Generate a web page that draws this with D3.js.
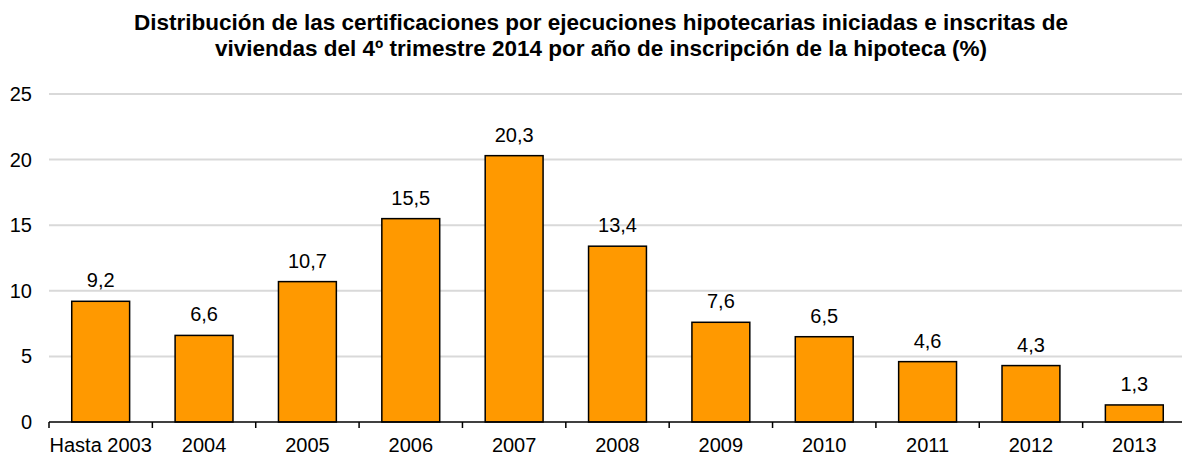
<!DOCTYPE html>
<html>
<head>
<meta charset="utf-8">
<script src="https://cdn.jsdelivr.net/npm/d3@7"></script>
<style>
  body { margin: 0; background: #fff; }
  svg { display: block; font-family: "Liberation Sans", Arial, sans-serif; }
</style>
</head>
<body>
<svg id="chart" width="1182" height="455"></svg>
<script>
// data
const categories = ["Hasta 2003", "2004", "2005", "2006", "2007", "2008", "2009", "2010", "2011", "2012", "2013"];
const values = [9.2, 6.6, 10.7, 15.5, 20.3, 13.4, 7.6, 6.5, 4.6, 4.3, 1.3];
const yTicks = [0, 5, 10, 15, 20, 25];
const titleLines = [
  "Distribución de las certificaciones por ejecuciones hipotecarias iniciadas e inscritas de",
  "viviendas del 4º trimestre 2014 por año de inscripción de la hipoteca (%)"
];

const svg = d3.select("#chart");
const plotLeft = 49, plotRight = 1186, plotTop = 94, plotBottom = 422;

const x = d3.scaleBand().domain(categories).range([plotLeft, plotRight]).paddingInner(0.44).paddingOuter(0.22);
const y = d3.scaleLinear().domain([0, 25]).range([plotBottom, plotTop]);

// title
svg.append("g").selectAll("text")
  .data(titleLines)
  .join("text")
  .attr("x", 601)
  .attr("y", (d, i) => 30 + i * 26)
  .attr("text-anchor", "middle")
  .attr("font-size", 22.5)
  .attr("font-weight", "bold")
  .text(d => d);

// gridlines
svg.append("g").selectAll("line")
  .data(yTicks.filter(t => t > 0))
  .join("line")
  .attr("x1", plotLeft).attr("x2", 1182)
  .attr("y1", d => y(d)).attr("y2", d => y(d))
  .attr("stroke", "#d9d9d9")
  .attr("stroke-width", 2);

// y tick labels
svg.append("g").selectAll("text")
  .data(yTicks)
  .join("text")
  .attr("x", 32)
  .attr("y", d => y(d) + 7)
  .attr("text-anchor", "end")
  .attr("font-size", 20)
  .text(d => d);

// bars
svg.append("g").selectAll("rect")
  .data(values)
  .join("rect")
  .attr("x", (d, i) => x(categories[i]))
  .attr("width", x.bandwidth())
  .attr("y", d => y(d))
  .attr("height", d => y(0) - y(d))
  .attr("fill", "#ff9900")
  .attr("stroke", "#000")
  .attr("stroke-width", 1.5);

// value labels
svg.append("g").selectAll("text")
  .data(values)
  .join("text")
  .attr("x", (d, i) => x(categories[i]) + x.bandwidth() / 2)
  .attr("y", d => y(d) - 14)
  .attr("text-anchor", "middle")
  .attr("font-size", 20)
  .text(d => d.toFixed(1).replace(".", ","));

// x axis line and ticks at band boundaries
const step = x.step();
const boundaries = d3.range(categories.length + 1).map(i => plotLeft + i * step);
svg.append("line")
  .attr("x1", plotLeft).attr("x2", 1182)
  .attr("y1", plotBottom).attr("y2", plotBottom)
  .attr("stroke", "#000").attr("stroke-width", 1.5);
svg.append("g").selectAll("line")
  .data(boundaries)
  .join("line")
  .attr("x1", d => d).attr("x2", d => d)
  .attr("y1", plotBottom).attr("y2", plotBottom + 6)
  .attr("stroke", "#000").attr("stroke-width", 1.5);

// category labels
svg.append("g").selectAll("text")
  .data(categories)
  .join("text")
  .attr("x", d => x(d) + x.bandwidth() / 2)
  .attr("y", 452)
  .attr("text-anchor", "middle")
  .attr("font-size", 20)
  .text(d => d);
</script>
</body>
</html>
